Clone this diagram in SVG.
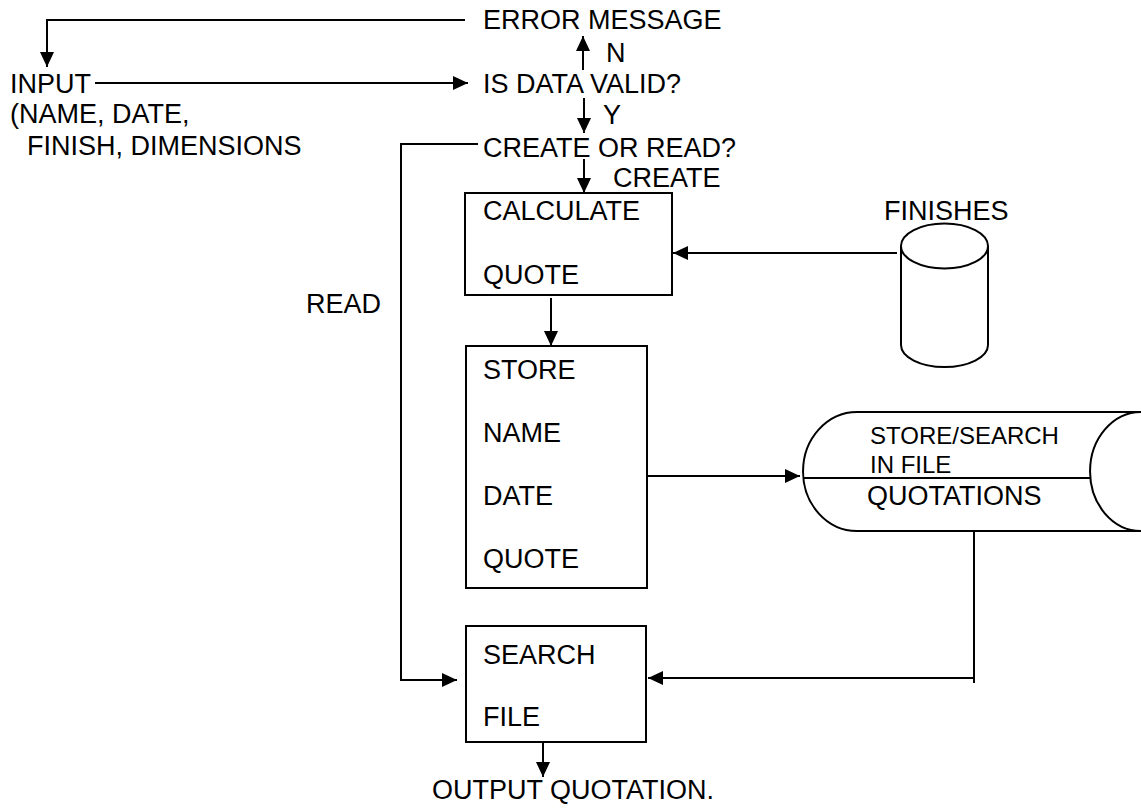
<svg xmlns="http://www.w3.org/2000/svg" width="1141" height="809" viewBox="0 0 1141 809">
  <style>
    text { font-family: "Liberation Sans", Arial, sans-serif; font-size: 27px; fill: #000; }
    text.small { font-size: 24px; }
    .box { fill: #fff; stroke: #000; stroke-width: 2; }
    .line { fill: none; stroke: #000; stroke-width: 2; }
  </style>
  <defs>
    <marker id="arrow" markerUnits="userSpaceOnUse" viewBox="0 0 15 14" refX="15" refY="7" markerWidth="15" markerHeight="14" orient="auto">
      <path d="M0,0 L15,7 L0,14 z" fill="#000"/>
    </marker>
  </defs>
  <rect width="1141" height="809" fill="#fff"/>

  <!-- connectors -->
  <g id="connectors" class="line">
    <path class="line" d="M465,20 H47 V67" marker-end="url(#arrow)"/>
    <path class="line" d="M95,83 H468" marker-end="url(#arrow)"/>
    <path class="line" d="M583,70 V36" marker-end="url(#arrow)"/>
    <path class="line" d="M584,98 V133" marker-end="url(#arrow)"/>
    <path class="line" d="M584,159 V193" marker-end="url(#arrow)"/>
    <path class="line" d="M478,144 H401 V681 M401,680 H457" marker-end="url(#arrow)"/>
    <path class="line" d="M897,253 H673" marker-end="url(#arrow)"/>
    <path class="line" d="M551,298 V346" marker-end="url(#arrow)"/>
    <path class="line" d="M644,476 H800" marker-end="url(#arrow)"/>
    <path class="line" d="M974,531 V683"/>
    <path class="line" d="M974,678 H648" marker-end="url(#arrow)"/>
    <path class="line" d="M543,742 V777" marker-end="url(#arrow)"/>
  </g>

  <!-- decision and terminal labels -->
  <g id="error-message"><text x="483" y="29">ERROR MESSAGE</text></g>
  <g id="input">
    <text x="10" y="93">INPUT</text>
    <text x="10" y="123">(NAME, DATE,</text>
    <text x="27" y="155">FINISH, DIMENSIONS</text>
  </g>
  <g id="is-data-valid"><text x="483" y="93">IS DATA VALID?</text></g>
  <g id="create-or-read"><text x="483" y="157">CREATE OR READ?</text></g>
  <g id="edge-labels">
    <text x="606" y="62">N</text>
    <text x="603" y="124">Y</text>
    <text x="613" y="187">CREATE</text>
    <text x="306" y="313">READ</text>
  </g>

  <!-- process boxes -->
  <g id="calculate-quote">
    <rect class="box" x="465" y="193" width="207" height="102"/>
    <text x="483" y="220">CALCULATE</text>
    <text x="483" y="284">QUOTE</text>
  </g>
  <g id="store-record">
    <rect class="box" x="466" y="346" width="181" height="242"/>
    <text x="483" y="379">STORE</text>
    <text x="483" y="442">NAME</text>
    <text x="483" y="505">DATE</text>
    <text x="483" y="568">QUOTE</text>
  </g>
  <g id="search-file">
    <rect class="box" x="466" y="626" width="180" height="116"/>
    <text x="483" y="664">SEARCH</text>
    <text x="483" y="726">FILE</text>
  </g>

  <!-- finishes store -->
  <g id="finishes">
    <text x="884" y="220">FINISHES</text>
    <path class="box" d="M901,246 V345 A43.5,22 0 0 0 988,345 V246"/>
    <ellipse class="box" cx="944.5" cy="246" rx="43.5" ry="22.5"/>
  </g>

  <!-- quotations file -->
  <g id="quotations">
    <path class="box" d="M857,412 H1141 A51,59.5 0 0 0 1141,531 H857 A54,59.5 0 0 1 857,412 z"/>
    <path class="line" d="M803,478 H1090"/>
    <text class="small" x="870" y="444">STORE/SEARCH</text>
    <text class="small" x="870" y="473">IN FILE</text>
    <text x="867" y="505">QUOTATIONS</text>
  </g>

  <g id="output"><text x="432" y="799">OUTPUT QUOTATION.</text></g>
</svg>
